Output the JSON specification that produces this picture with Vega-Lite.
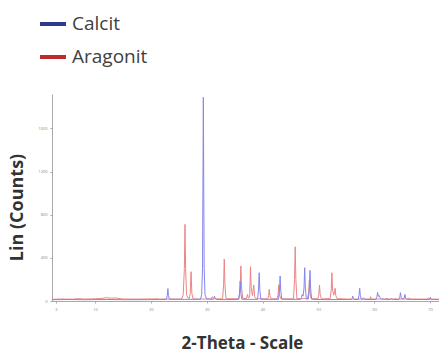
{
  "$schema": "https://vega.github.io/schema/vega-lite/v6.json",
  "width": 387,
  "height": 207,
  "autosize": "none",
  "padding": {"left": 52, "top": 94, "right": 0, "bottom": 53},
  "background": "white",
  "config": {"view": {"stroke": null}, "font": "Open Sans"},
  "datasets": {
    "calcit": [
      {"t":2.3,"c":12},{"t":5,"c":14},{"t":8,"c":12},{"t":12,"c":14},{"t":16,"c":12},{"t":20,"c":13},{"t":22.0,"c":14},
      {"t":22.75,"c":14},{"t":22.95,"c":50},{"t":23.05,"c":115},{"t":23.15,"c":50},{"t":23.35,"c":16},
      {"t":26,"c":15},{"t":28.9,"c":16},{"t":29.1,"c":60},{"t":29.25,"c":300},{"t":29.32,"c":1000},{"t":29.4,"c":1890},{"t":29.48,"c":1000},{"t":29.55,"c":300},{"t":29.7,"c":60},{"t":29.95,"c":22},
      {"t":31.1,"c":14},{"t":31.3,"c":25},{"t":31.4,"c":45},{"t":31.5,"c":25},{"t":31.7,"c":14},
      {"t":33.5,"c":13},{"t":35.7,"c":14},{"t":35.88,"c":70},{"t":36.0,"c":185},{"t":36.12,"c":70},{"t":36.3,"c":16},
      {"t":39.1,"c":15},{"t":39.28,"c":100},{"t":39.4,"c":262},{"t":39.52,"c":100},{"t":39.7,"c":16},
      {"t":42.85,"c":15},{"t":43.03,"c":90},{"t":43.15,"c":232},{"t":43.27,"c":90},{"t":43.45,"c":16},
      {"t":46.8,"c":15},{"t":47.0,"c":35},{"t":47.1,"c":60},{"t":47.25,"c":45},{"t":47.43,"c":120},{"t":47.55,"c":309},{"t":47.67,"c":120},{"t":47.85,"c":18},
      {"t":48.2,"c":18},{"t":48.38,"c":110},{"t":48.5,"c":284},{"t":48.62,"c":110},{"t":48.8,"c":16},
      {"t":51,"c":13},{"t":55.9,"c":14},{"t":56.05,"c":25},{"t":56.15,"c":46},{"t":56.25,"c":25},{"t":56.4,"c":14},
      {"t":57.1,"c":14},{"t":57.28,"c":50},{"t":57.4,"c":118},{"t":57.52,"c":50},{"t":57.7,"c":15},
      {"t":57.9,"c":15},{"t":58.1,"c":30},{"t":58.3,"c":14},
      {"t":60.3,"c":14},{"t":60.48,"c":35},{"t":60.6,"c":80},{"t":60.72,"c":45},{"t":60.9,"c":50},{"t":61.05,"c":30},{"t":61.3,"c":20},{"t":61.6,"c":18},{"t":62,"c":15},
      {"t":62.9,"c":14},{"t":63.1,"c":26},{"t":63.3,"c":14},
      {"t":64.4,"c":14},{"t":64.58,"c":35},{"t":64.7,"c":77},{"t":64.82,"c":35},{"t":65.0,"c":18},{"t":65.35,"c":25},{"t":65.5,"c":60},{"t":65.62,"c":28},{"t":65.85,"c":15},
      {"t":66.5,"c":14},{"t":68,"c":14},{"t":69.9,"c":14},{"t":70.05,"c":35},{"t":70.2,"c":14},{"t":71.6,"c":13}
    ],
    "aragonit": [
      {"t":2.3,"c":16},{"t":4,"c":18},{"t":6,"c":17},{"t":7,"c":22},{"t":8,"c":18},{"t":10,"c":20},{"t":11.2,"c":24},{"t":12,"c":30},{"t":13,"c":26},{"t":13.8,"c":28},{"t":15,"c":18},{"t":18,"c":18},{"t":21,"c":20},{"t":21.2,"c":25},{"t":21.4,"c":18},
      {"t":25.3,"c":18},{"t":25.6,"c":25},{"t":25.8,"c":60},{"t":26.0,"c":300},{"t":26.12,"c":711},{"t":26.22,"c":300},{"t":26.4,"c":60},{"t":26.6,"c":30},{"t":26.9,"c":25},{"t":27.05,"c":70},{"t":27.2,"c":272},{"t":27.35,"c":70},{"t":27.55,"c":20},
      {"t":28.5,"c":18},{"t":30.8,"c":18},{"t":31.0,"c":40},{"t":31.15,"c":20},
      {"t":32.85,"c":20},{"t":33.03,"c":150},{"t":33.15,"c":389},{"t":33.27,"c":150},{"t":33.45,"c":22},
      {"t":35.8,"c":20},{"t":36.0,"c":130},{"t":36.12,"c":325},{"t":36.24,"c":130},{"t":36.45,"c":25},{"t":37.1,"c":22},{"t":37.3,"c":60},{"t":37.45,"c":30},{"t":37.7,"c":35},{"t":37.85,"c":318},{"t":37.97,"c":120},{"t":38.2,"c":50},{"t":38.42,"c":148},{"t":38.6,"c":40},{"t":38.85,"c":20},
      {"t":40.95,"c":20},{"t":41.1,"c":50},{"t":41.2,"c":108},{"t":41.3,"c":50},{"t":41.5,"c":20},
      {"t":42.6,"c":20},{"t":42.8,"c":60},{"t":42.9,"c":150},{"t":43.0,"c":60},{"t":43.3,"c":20},
      {"t":45.55,"c":20},{"t":45.73,"c":200},{"t":45.85,"c":503},{"t":45.97,"c":200},{"t":46.15,"c":22},
      {"t":48.05,"c":22},{"t":48.25,"c":75},{"t":48.38,"c":190},{"t":48.5,"c":75},{"t":48.7,"c":22},
      {"t":49.9,"c":20},{"t":50.08,"c":60},{"t":50.2,"c":148},{"t":50.32,"c":60},{"t":50.55,"c":20},
      {"t":52.1,"c":22},{"t":52.3,"c":100},{"t":52.42,"c":262},{"t":52.55,"c":100},{"t":52.75,"c":55},{"t":52.9,"c":85},{"t":53.0,"c":118},{"t":53.12,"c":50},{"t":53.35,"c":22},
      {"t":55,"c":18},{"t":59.2,"c":18},{"t":59.35,"c":40},{"t":59.5,"c":18},{"t":62.1,"c":18},{"t":62.3,"c":26},{"t":62.5,"c":18},{"t":63.6,"c":18},{"t":63.8,"c":26},{"t":64.0,"c":18},{"t":66.1,"c":18},{"t":66.3,"c":30},{"t":66.5,"c":18},{"t":68.5,"c":18},{"t":69.5,"c":18},{"t":69.7,"c":30},{"t":69.9,"c":18},{"t":71.6,"c":17}
    ],
    "phases": [{"Phase": "Calcit"}, {"Phase": "Aragonit"}]
  },
  "layer": [
    {
      "data": {"name": "aragonit"},
      "mark": {"type": "line", "strokeWidth": 1, "clip": true, "color": "#ec8585"},
      "encoding": {
        "x": {"field": "t", "type": "quantitative"},
        "y": {"field": "c", "type": "quantitative"}
      }
    },
    {
      "data": {"name": "calcit"},
      "mark": {"type": "line", "strokeWidth": 1, "clip": true, "color": "#8585ee"},
      "encoding": {
        "x": {
          "field": "t", "type": "quantitative",
          "scale": {"domain": [2.3, 71.6], "nice": false, "zero": false},
          "axis": {
            "title": "2-Theta - Scale", "values": [3, 10, 20, 30, 40, 50, 60, 70], "format": "d",
            "labelFontSize": 4, "labelColor": "#888", "domainColor": "#aaa", "tickColor": "#aaa", "tickSize": 2,
            "labelPadding": 4, "grid": false, "labelOverlap": false,
            "titleFontSize": 17, "titleFontWeight": "bold", "titleColor": "#333", "titleFont": "Open Sans",
            "titleX": 190, "titleY": 42, "titleBaseline": "middle"
          }
        },
        "y": {
          "field": "c", "type": "quantitative",
          "scale": {"domain": [0, 1920], "nice": false},
          "axis": {
            "title": "Lin (Counts)", "values": [0,100,200,300,400,500,600,700,800,900,1000,1100,1200,1300,1400,1500,1600,1700,1800,1900],
            "format": "d", "labelOverlap": false,
            "labelFontSize": 4, "labelColor": "#888", "domainColor": "#aaa", "tickColor": "#aaa", "tickSize": 2,
            "labelPadding": 3, "grid": false,
            "titleFontSize": 18, "titleFontWeight": "bold", "titleColor": "#333", "titleFont": "Open Sans",
            "titleX": -35, "titleY": 113, "titleBaseline": "middle"
          }
        }
      }
    },
    {
      "data": {"name": "phases"},
      "mark": {"type": "point", "opacity": 0, "size": 0, "filled": false},
      "encoding": {
        "color": {
          "field": "Phase", "type": "nominal",
          "scale": {"domain": ["Calcit", "Aragonit"], "range": ["#2e3a8c", "#be2a2e"]},
          "legend": {
            "title": null, "orient": "none", "legendX": -14, "legendY": -85,
            "symbolType": "stroke", "symbolSize": 676, "symbolStrokeWidth": 4, "symbolOpacity": 1,
            "labelFontSize": 19, "labelColor": "#404040", "labelFont": "Open Sans", "labelOffset": 4,
            "rowPadding": 8
          }
        }
      }
    }
  ]
}
